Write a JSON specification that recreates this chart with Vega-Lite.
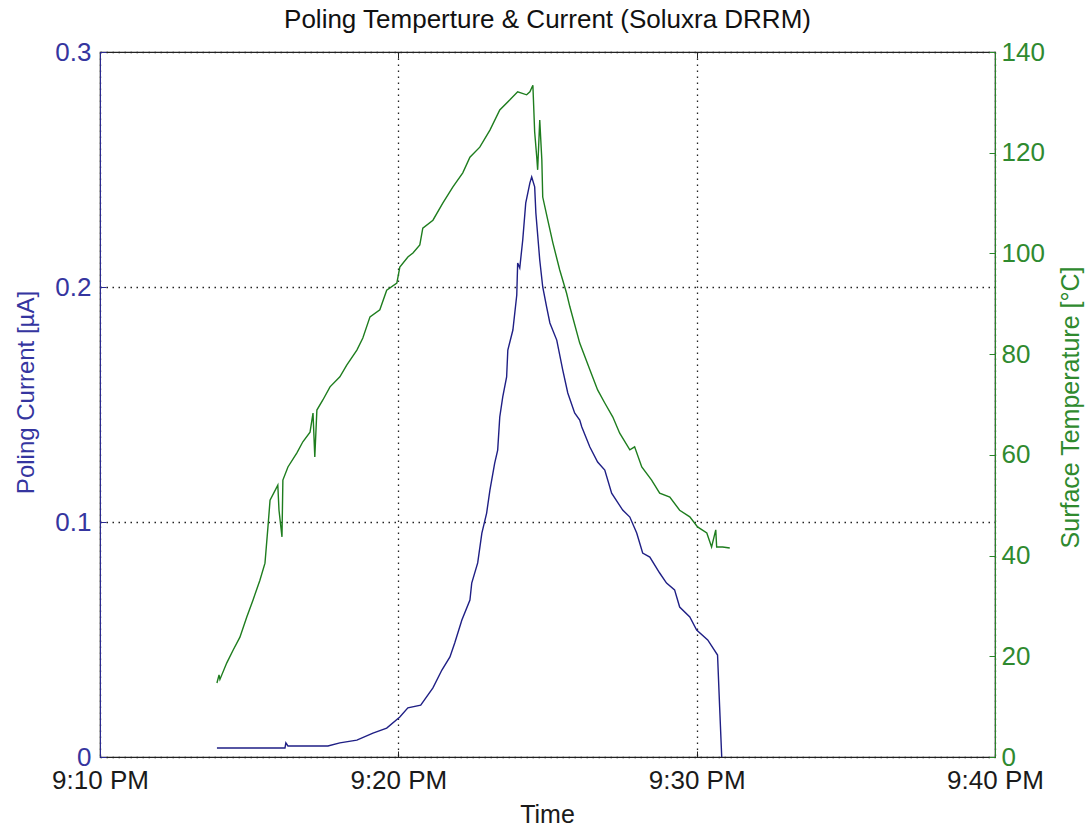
{
  "$schema": "https://vega.github.io/schema/vega-lite/v6.json",
  "width": 895,
  "height": 705,
  "autosize": {"type": "none"},
  "padding": {"left": 100, "top": 52, "right": 91, "bottom": 72},
  "background": "white",
  "title": {
    "text": "Poling Temperture & Current (Soluxra DRRM)",
    "font": "Liberation Sans",
    "fontSize": 26,
    "fontWeight": "normal",
    "color": "#111111",
    "anchor": "middle",
    "offset": 6
  },
  "config": {
    "font": "Liberation Sans",
    "view": {"stroke": "#222222", "strokeWidth": 1.2}
  },
  "datasets": {
    "current": [
      {"minute": 13.92, "current_uA": 0.0038},
      {"minute": 16.20, "current_uA": 0.0038},
      {"minute": 16.23, "current_uA": 0.0060},
      {"minute": 16.30, "current_uA": 0.0047},
      {"minute": 17.64, "current_uA": 0.0047},
      {"minute": 18.04, "current_uA": 0.0060},
      {"minute": 18.61, "current_uA": 0.0072},
      {"minute": 19.15, "current_uA": 0.0102},
      {"minute": 19.61, "current_uA": 0.0123},
      {"minute": 20.05, "current_uA": 0.0170},
      {"minute": 20.32, "current_uA": 0.0209},
      {"minute": 20.75, "current_uA": 0.0221},
      {"minute": 21.16, "current_uA": 0.0294},
      {"minute": 21.46, "current_uA": 0.0370},
      {"minute": 21.73, "current_uA": 0.0426},
      {"minute": 21.89, "current_uA": 0.0485},
      {"minute": 22.13, "current_uA": 0.0583},
      {"minute": 22.40, "current_uA": 0.0668},
      {"minute": 22.46, "current_uA": 0.0740},
      {"minute": 22.66, "current_uA": 0.0826},
      {"minute": 22.80, "current_uA": 0.0953},
      {"minute": 22.96, "current_uA": 0.1038},
      {"minute": 23.07, "current_uA": 0.1136},
      {"minute": 23.23, "current_uA": 0.1251},
      {"minute": 23.33, "current_uA": 0.1306},
      {"minute": 23.40, "current_uA": 0.1447},
      {"minute": 23.50, "current_uA": 0.1532},
      {"minute": 23.63, "current_uA": 0.1617},
      {"minute": 23.67, "current_uA": 0.1732},
      {"minute": 23.84, "current_uA": 0.1817},
      {"minute": 23.97, "current_uA": 0.1966},
      {"minute": 24.00, "current_uA": 0.2102},
      {"minute": 24.07, "current_uA": 0.2081},
      {"minute": 24.17, "current_uA": 0.2200},
      {"minute": 24.27, "current_uA": 0.2357},
      {"minute": 24.41, "current_uA": 0.2443},
      {"minute": 24.47, "current_uA": 0.2468},
      {"minute": 24.57, "current_uA": 0.2426},
      {"minute": 24.61, "current_uA": 0.2315},
      {"minute": 24.74, "current_uA": 0.2115},
      {"minute": 24.84, "current_uA": 0.2000},
      {"minute": 24.97, "current_uA": 0.1915},
      {"minute": 25.08, "current_uA": 0.1847},
      {"minute": 25.31, "current_uA": 0.1774},
      {"minute": 25.51, "current_uA": 0.1647},
      {"minute": 25.68, "current_uA": 0.1549},
      {"minute": 25.91, "current_uA": 0.1464},
      {"minute": 26.08, "current_uA": 0.1434},
      {"minute": 26.15, "current_uA": 0.1404},
      {"minute": 26.42, "current_uA": 0.1319},
      {"minute": 26.68, "current_uA": 0.1255},
      {"minute": 26.92, "current_uA": 0.1221},
      {"minute": 27.15, "current_uA": 0.1123},
      {"minute": 27.52, "current_uA": 0.1051},
      {"minute": 27.76, "current_uA": 0.1021},
      {"minute": 27.99, "current_uA": 0.0953},
      {"minute": 28.19, "current_uA": 0.0868},
      {"minute": 28.43, "current_uA": 0.0851},
      {"minute": 28.76, "current_uA": 0.0783},
      {"minute": 28.99, "current_uA": 0.0740},
      {"minute": 29.26, "current_uA": 0.0711},
      {"minute": 29.43, "current_uA": 0.0638},
      {"minute": 29.77, "current_uA": 0.0596},
      {"minute": 30.00, "current_uA": 0.0540},
      {"minute": 30.37, "current_uA": 0.0498},
      {"minute": 30.70, "current_uA": 0.0434},
      {"minute": 30.77, "current_uA": 0.0213},
      {"minute": 30.84, "current_uA": 0.0}
    ],
    "temp": [
      {"minute": 13.92, "temperature_C": 14.7},
      {"minute": 13.99, "temperature_C": 16.3},
      {"minute": 14.02, "temperature_C": 15.4},
      {"minute": 14.25, "temperature_C": 18.7},
      {"minute": 14.46, "temperature_C": 21.2},
      {"minute": 14.69, "temperature_C": 23.8},
      {"minute": 14.92, "temperature_C": 27.8},
      {"minute": 15.13, "temperature_C": 31.2},
      {"minute": 15.36, "temperature_C": 35.1},
      {"minute": 15.53, "temperature_C": 38.5},
      {"minute": 15.63, "temperature_C": 45.7},
      {"minute": 15.70, "temperature_C": 51.0},
      {"minute": 15.96, "temperature_C": 54.0},
      {"minute": 16.00, "temperature_C": 49.0},
      {"minute": 16.10, "temperature_C": 43.7},
      {"minute": 16.13, "temperature_C": 55.0},
      {"minute": 16.30, "temperature_C": 57.6},
      {"minute": 16.60, "temperature_C": 60.4},
      {"minute": 16.80, "temperature_C": 62.6},
      {"minute": 17.04, "temperature_C": 64.5},
      {"minute": 17.14, "temperature_C": 68.3},
      {"minute": 17.20, "temperature_C": 59.6},
      {"minute": 17.27, "temperature_C": 68.9},
      {"minute": 17.47, "temperature_C": 70.9},
      {"minute": 17.71, "temperature_C": 73.5},
      {"minute": 18.04, "temperature_C": 75.5},
      {"minute": 18.27, "temperature_C": 77.8},
      {"minute": 18.61, "temperature_C": 80.8},
      {"minute": 18.81, "temperature_C": 83.2},
      {"minute": 19.05, "temperature_C": 87.4},
      {"minute": 19.38, "temperature_C": 88.8},
      {"minute": 19.61, "temperature_C": 92.7},
      {"minute": 19.95, "temperature_C": 94.1},
      {"minute": 20.05, "temperature_C": 97.3},
      {"minute": 20.32, "temperature_C": 99.3},
      {"minute": 20.49, "temperature_C": 100.1},
      {"minute": 20.72, "temperature_C": 101.7},
      {"minute": 20.82, "temperature_C": 105.0},
      {"minute": 21.16, "temperature_C": 106.6},
      {"minute": 21.49, "temperature_C": 110.0},
      {"minute": 21.83, "temperature_C": 113.2},
      {"minute": 22.16, "temperature_C": 116.0},
      {"minute": 22.40, "temperature_C": 119.1},
      {"minute": 22.73, "temperature_C": 121.1},
      {"minute": 23.07, "temperature_C": 124.5},
      {"minute": 23.40, "temperature_C": 128.5},
      {"minute": 23.74, "temperature_C": 130.5},
      {"minute": 24.00, "temperature_C": 132.1},
      {"minute": 24.30, "temperature_C": 131.5},
      {"minute": 24.41, "temperature_C": 132.1},
      {"minute": 24.51, "temperature_C": 133.4},
      {"minute": 24.57, "temperature_C": 124.1},
      {"minute": 24.64, "temperature_C": 119.1},
      {"minute": 24.67, "temperature_C": 116.6},
      {"minute": 24.74, "temperature_C": 126.5},
      {"minute": 24.81, "temperature_C": 118.6},
      {"minute": 24.84, "temperature_C": 111.2},
      {"minute": 25.01, "temperature_C": 106.6},
      {"minute": 25.18, "temperature_C": 102.1},
      {"minute": 25.41, "temperature_C": 96.7},
      {"minute": 25.64, "temperature_C": 92.1},
      {"minute": 25.75, "temperature_C": 89.4},
      {"minute": 26.08, "temperature_C": 82.2},
      {"minute": 26.42, "temperature_C": 76.9},
      {"minute": 26.68, "temperature_C": 72.9},
      {"minute": 26.92, "temperature_C": 70.3},
      {"minute": 27.19, "temperature_C": 67.5},
      {"minute": 27.42, "temperature_C": 64.3},
      {"minute": 27.76, "temperature_C": 61.0},
      {"minute": 27.92, "temperature_C": 61.6},
      {"minute": 28.16, "temperature_C": 57.6},
      {"minute": 28.49, "temperature_C": 55.0},
      {"minute": 28.76, "temperature_C": 52.4},
      {"minute": 29.10, "temperature_C": 51.6},
      {"minute": 29.43, "temperature_C": 49.0},
      {"minute": 29.77, "temperature_C": 47.7},
      {"minute": 30.03, "temperature_C": 45.7},
      {"minute": 30.34, "temperature_C": 44.5},
      {"minute": 30.50, "temperature_C": 41.7},
      {"minute": 30.64, "temperature_C": 45.1},
      {"minute": 30.67, "temperature_C": 41.7},
      {"minute": 30.87, "temperature_C": 41.7},
      {"minute": 31.11, "temperature_C": 41.5}
    ]
  },
  "layer": [
    {
      "data": {"name": "current"},
      "mark": {"type": "line", "color": "#1f1f85", "strokeWidth": 1.4, "interpolate": "linear"},
      "encoding": {
        "x": {
          "field": "minute",
          "type": "quantitative",
          "scale": {"domain": [10, 40], "nice": false, "zero": false},
          "axis": {
            "orient": "bottom",
            "title": "Time",
            "values": [10, 20, 30, 40],
            "labelExpr": "'9:' + datum.value + ' PM'",
            "labelFontSize": 26,
            "labelColor": "#1a1a1a",
            "labelPadding": 16,
            "labelFlush": false,
            "labelOverlap": false,
            "tickSize": -6,
            "tickColor": "#222222",
            "domainColor": "#222222",
            "grid": true,
            "gridColor": "#222222",
            "gridDash": [1.5, 4.5],
            "gridWidth": 1.3,
            "gridOpacity": 1,
            "titleFontSize": 25,
            "titleFontWeight": "normal",
            "titleColor": "#1a1a1a",
            "titleX": 447,
            "titleY": 57,
            "titleBaseline": "middle"
          }
        },
        "y": {
          "field": "current_uA",
          "type": "quantitative",
          "scale": {"domain": [0, 0.3], "nice": false},
          "axis": {
            "orient": "left",
            "title": "Poling Current [µA]",
            "values": [0, 0.1, 0.2, 0.3],
            "format": "~g",
            "labelFontSize": 26,
            "labelColor": "#35359f",
            "labelPadding": 15,
            "labelFlush": false,
            "labelOverlap": false,
            "tickSize": -6,
            "tickColor": "#2a2a90",
            "domainColor": "#2a2a90",
            "grid": true,
            "gridColor": "#222222",
            "gridDash": [1.5, 4.5],
            "gridWidth": 1.3,
            "gridOpacity": 1,
            "titleFontSize": 24,
            "titleFontWeight": "normal",
            "titleColor": "#35359f",
            "titleAngle": -90,
            "titleX": -74,
            "titleY": 340,
            "titleBaseline": "middle",
            "titleAlign": "center"
          }
        }
      }
    },
    {
      "data": {"name": "temp"},
      "mark": {"type": "line", "color": "#1e7d1e", "strokeWidth": 1.4, "interpolate": "linear"},
      "encoding": {
        "x": {
          "field": "minute",
          "type": "quantitative",
          "axis": {
            "orient": "top",
            "title": null,
            "values": [10, 20, 30, 40],
            "labels": false,
            "tickSize": -6,
            "tickColor": "#222222",
            "domainColor": "#222222",
            "grid": false
          }
        },
        "y": {
          "field": "temperature_C",
          "type": "quantitative",
          "scale": {"domain": [0, 140], "nice": false},
          "axis": {
            "orient": "right",
            "title": "Surface Temperature [°C]",
            "values": [0, 20, 40, 60, 80, 100, 120, 140],
            "labelFontSize": 26,
            "labelColor": "#2f8a2f",
            "labelPadding": 12,
            "labelFlush": false,
            "labelOverlap": false,
            "tickSize": -6,
            "tickColor": "#2a852a",
            "domainColor": "#2a852a",
            "grid": false,
            "titleFontSize": 25,
            "titleFontWeight": "normal",
            "titleColor": "#2f8a2f",
            "titleAngle": -90,
            "titleX": 75,
            "titleY": 355,
            "titleBaseline": "middle",
            "titleAlign": "center"
          }
        }
      }
    }
  ],
  "resolve": {
    "scale": {"y": "independent"},
    "axis": {"x": "independent", "y": "independent"}
  }
}
